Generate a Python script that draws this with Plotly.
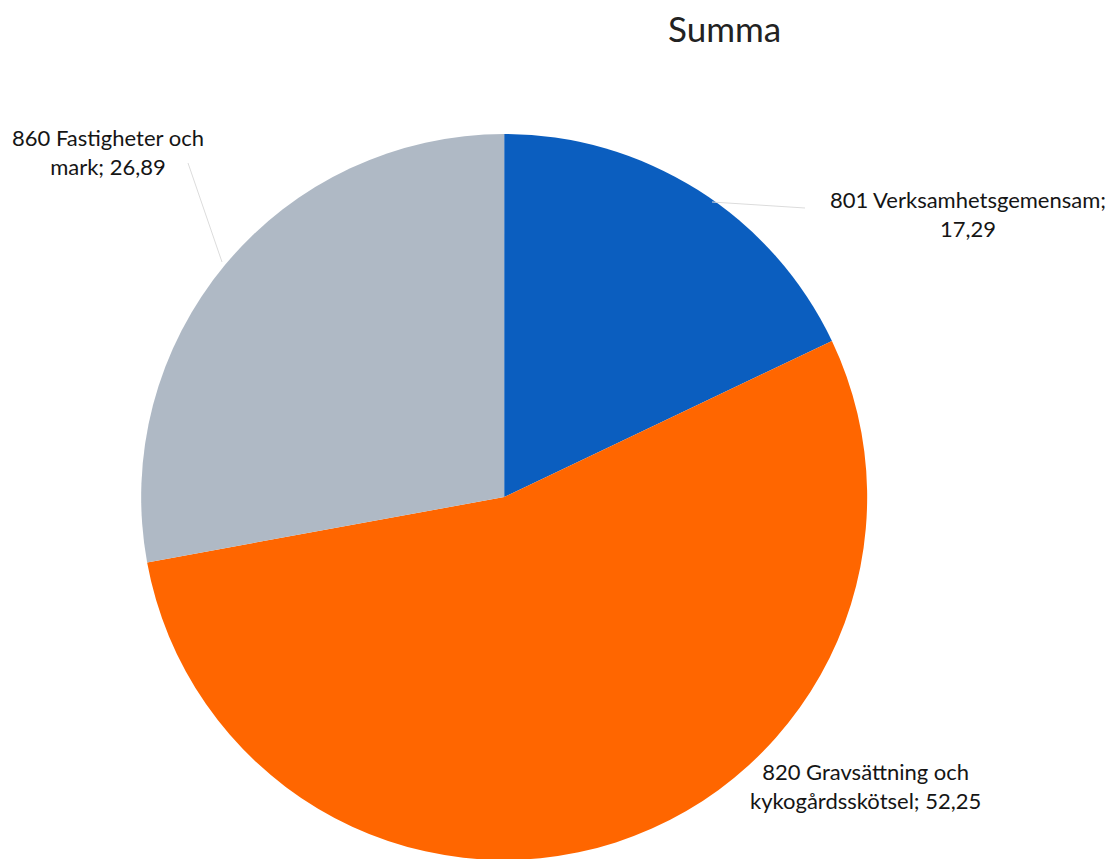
import plotly.graph_objects as go

# slice data
codes = ["801", "820", "860"]
names = ["Verksamhetsgemensam", "Gravsättning och kykogårdsskötsel", "Fastigheter och mark"]
values = [17.29, 52.25, 26.89]
colors = ["#0B5EBF", "#FF6600", "#AFB9C5"]

W, H = 1115, 859
OFF = 8  # page body margin


def px(x, y):
    return (x - OFF) / W, 1 - (y - OFF) / H


FONT = "Lato, Open Sans, sans-serif"

cy = H - (497 - OFF)
fig = go.Figure(go.Pie(
    labels=[c + " " + n for c, n in zip(codes, names)],
    values=values,
    sort=False,
    direction="clockwise",
    rotation=0,
    marker=dict(colors=colors, line=dict(width=0)),
    textinfo="none",
    hoverinfo="label+value",
    domain=dict(x=[0.1, 0.79], y=[(cy - 363) / H, (cy + 363) / H]),
    showlegend=False,
))

label_text = [
    "801 Verksamhetsgemensam;<br>17,29",
    "820 Gravsättning och<br>kykogårdsskötsel; 52,25",
    "860 Fastigheter och<br>mark; 26,89",
]
label_ctr = [(968, 214), (865, 786), (108, 152)]

for txt, ctr in zip(label_text, label_ctr):
    x, y = px(*ctr)
    fig.add_annotation(x=x, y=y, xref="paper", yref="paper", text=txt, showarrow=False,
                       xanchor="center", yanchor="middle", align="center",
                       font=dict(family=FONT, size=22, color="#151515"))

# faint leader lines
leaders = [((712, 202), (805, 208)), ((222, 262), (188, 163))]
for a, b in leaders:
    x0, y0 = px(*a)
    x1, y1 = px(*b)
    fig.add_shape(type="line", xref="paper", yref="paper", x0=x0, y0=y0, x1=x1, y1=y1,
                  line=dict(color="#dcdcdc", width=1))

tx, ty = px(724, 28)
fig.add_annotation(x=tx, y=ty, xref="paper", yref="paper", text="Summa", showarrow=False,
                   xanchor="center", yanchor="middle",
                   font=dict(family=FONT, size=35, color="#222222"))

fig.update_layout(
    width=W, height=H,
    margin=dict(l=0, r=0, t=0, b=0),
    paper_bgcolor="white",
    plot_bgcolor="white",
)

fig.write_html("out.html")
